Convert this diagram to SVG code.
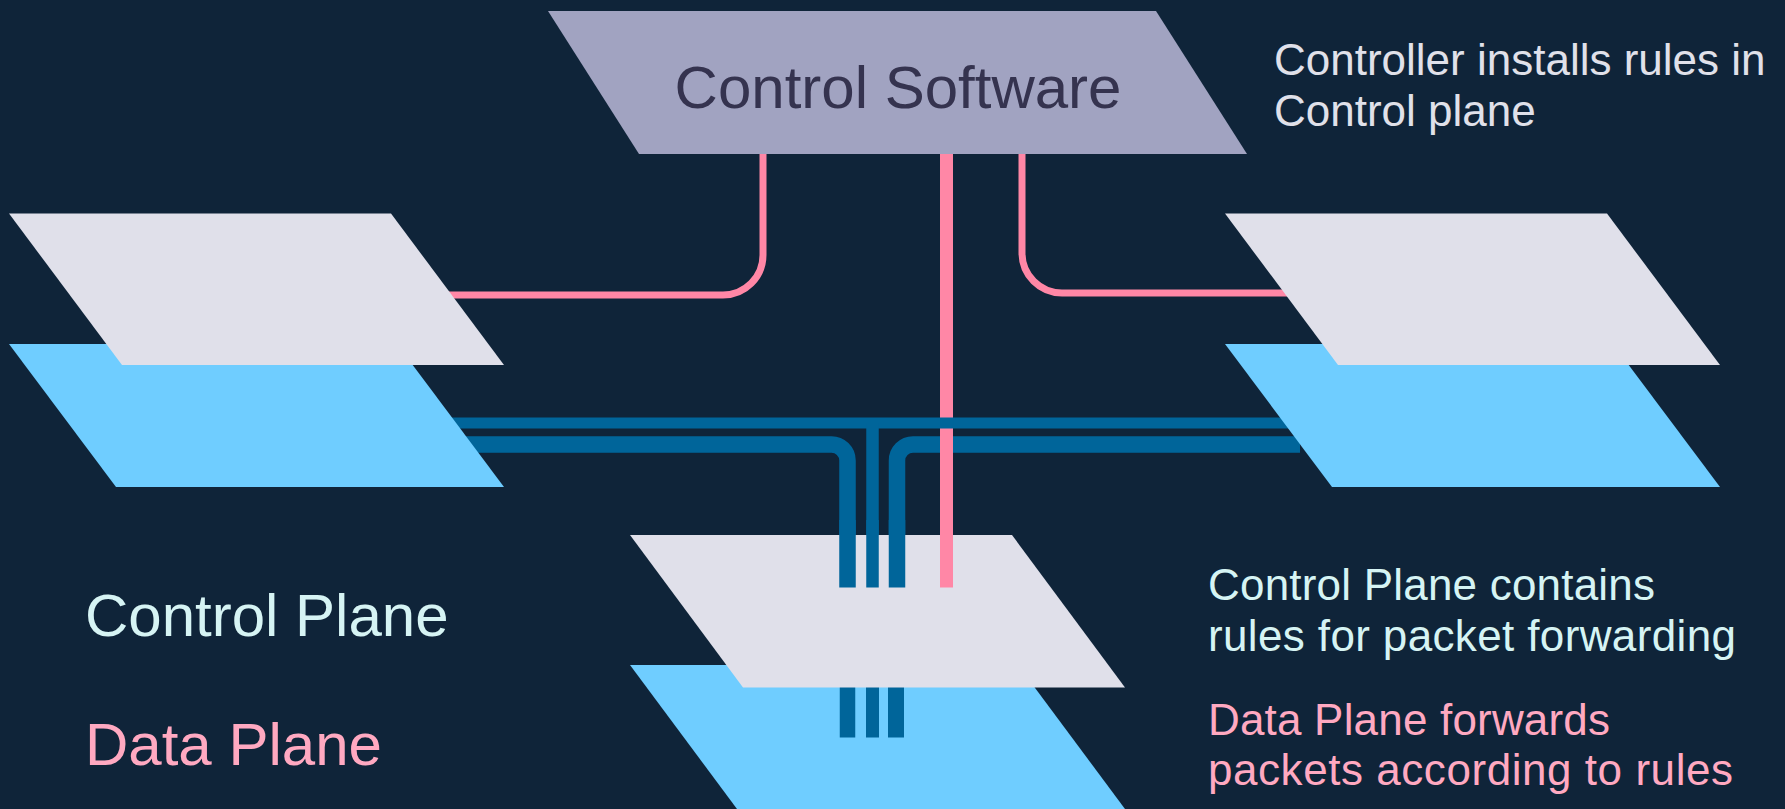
<svg xmlns="http://www.w3.org/2000/svg" width="1785" height="809" viewBox="0 0 1785 809">
<style>
.cp{fill:#E0E0EA}
.dp{fill:#6FCDFF}
.pink{stroke:#FF87A6;fill:none}
.blue{stroke:#00659A;fill:none}
.t{font-family:"Liberation Sans",Arial,sans-serif}
.lt{fill:#D6F4F4}
.gt{fill:#E0E1EA}
.pt{fill:#FFA9C1}
</style>
<rect width="1785" height="809" fill="#0F2439"/>
<g id="connectors-back">
<path class="pink" stroke-width="7" d="M763,154 V255 A40,40 0 0 1 723,295 H440"/>
<path class="pink" stroke-width="7" d="M1022,154 V253 A40,40 0 0 0 1062,293 H1300"/>
<path class="blue" stroke-width="16.5" d="M440,444.5 H831 A16,16 0 0 1 847.5,460.5 V587.5"/>
<path class="blue" stroke-width="16.5" d="M1300,444.5 H913 A16,16 0 0 0 897,460.5 V587.5"/>
<path class="pink" stroke-width="13" d="M946.5,154 V587.5"/>
<path class="blue" stroke-width="11" d="M440,423 H1300"/>
<path class="blue" stroke-width="12.5" d="M872.5,423 V587.5"/>
</g>
<g id="left-data-plane"><polygon class="dp" points="9,344 397,344 504,487 116,487"/></g>
<g id="left-control-plane"><polygon class="cp" points="9,213.5 391,213.5 504,365 122,365"/></g>
<g id="right-data-plane"><polygon class="dp" points="1225,344 1613,344 1720,487 1332,487"/></g>
<g id="right-control-plane"><polygon class="cp" points="1225,213.5 1607,213.5 1720,365 1338,365"/></g>
<g id="center-data-plane"><polygon class="dp" points="630,665 1018,665 1125,809 737,809"/></g>
<g id="connectors-lower">
<path class="blue" stroke-width="15.5" d="M847.5,687 V737.5"/>
<path class="blue" stroke-width="13" d="M872.5,687 V737.5"/>
<path class="blue" stroke-width="16" d="M896,687 V737.5"/>
</g>
<g id="center-control-plane"><polygon class="cp" points="630,535 1012,535 1125,687.5 743,687.5"/></g>
<g id="connectors-front">
<path class="blue" stroke-width="16.5" d="M847.5,520 V587.5"/>
<path class="blue" stroke-width="12.5" d="M872.5,520 V587.5"/>
<path class="blue" stroke-width="16.5" d="M897,520 V587.5"/>
<path class="pink" stroke-width="13" d="M946.5,520 V587.5"/>
</g>
<g id="control-software">
<polygon points="548,11 1156,11 1247,154 639,154" fill="#A1A3C1"/>
<text class="t" x="898" y="108" font-size="60" text-anchor="middle" fill="#35334F">Control Software</text>
</g>
<g id="labels">
<text class="t gt" font-size="44" x="1274" y="75">Controller installs rules in</text>
<text class="t gt" font-size="44" x="1274" y="126">Control plane</text>
<text class="t lt" font-size="60" x="85" y="636">Control Plane</text>
<text class="t pt" font-size="60" x="85" y="765">Data Plane</text>
<text class="t lt" font-size="44" x="1208" y="600" textLength="447">Control Plane contains</text>
<text class="t lt" font-size="44" x="1208" y="651" textLength="528">rules for packet forwarding</text>
<text class="t pt" font-size="44" x="1208" y="735" textLength="402">Data Plane forwards</text>
<text class="t pt" font-size="44" x="1208" y="785" textLength="525">packets according to rules</text>
</g>
</svg>
